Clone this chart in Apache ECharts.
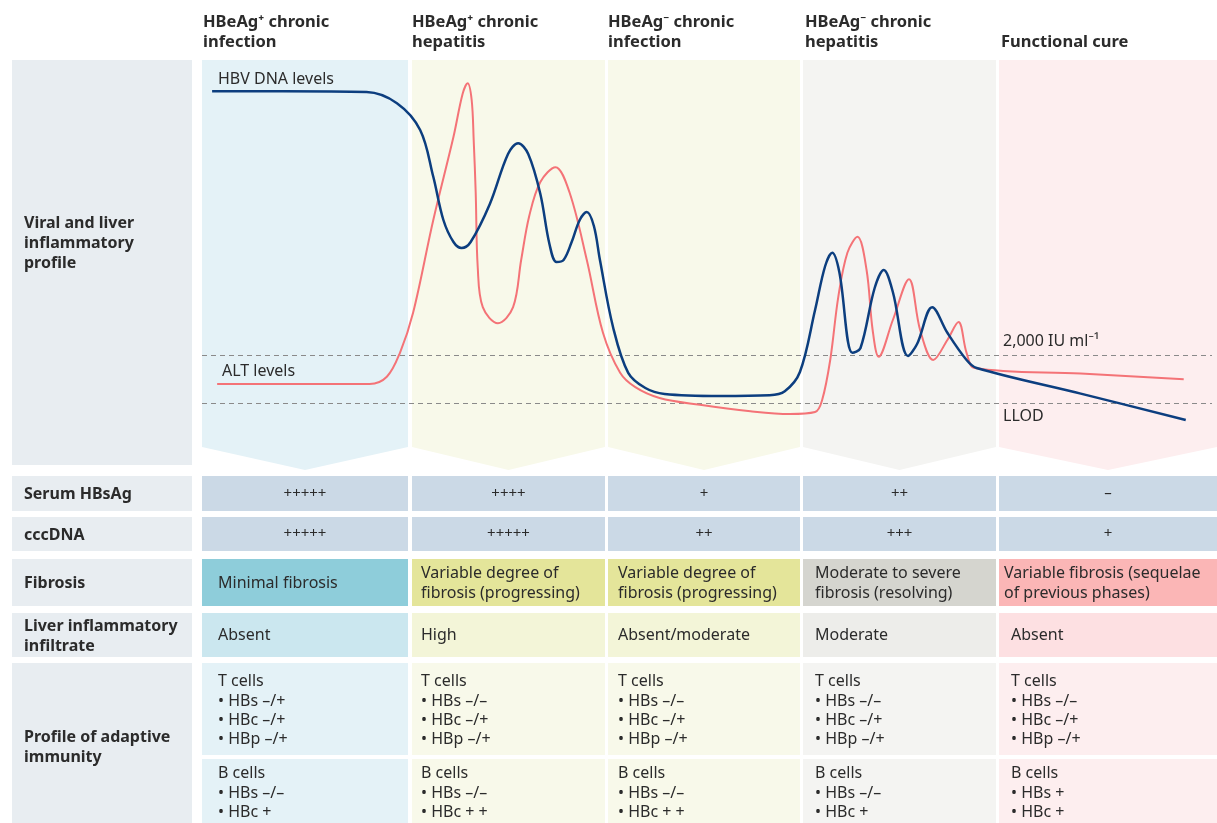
<!DOCTYPE html>
<html>
<head>
<meta charset="utf-8">
<script src="https://cdn.jsdelivr.net/npm/echarts@6/dist/echarts.min.js"></script>
<style>
  html, body { margin: 0; padding: 0; background: #fff; }
  #chart { width: 1217px; height: 823px; }
</style>
</head>
<body>
<div id="chart"></div>
<script>
// phase headers
const phases = ['HBeAg\u207A chronic\ninfection', 'HBeAg\u207A chronic\nhepatitis', 'HBeAg\u207B chronic\ninfection', 'HBeAg\u207B chronic\nhepatitis', 'Functional cure'];
const rowLabels = ['Serum HBsAg', 'cccDNA', 'Fibrosis', 'Liver inflammatory\ninfiltrate', 'Profile of adaptive\nimmunity'];
const hbsag = ['+++++', '++++', '+', '++', '\u2013'];
const cccdna = ['+++++', '+++++', '++', '+++', '+'];
const fibrosis = ['Minimal fibrosis', 'Variable degree of\nfibrosis (progressing)', 'Variable degree of\nfibrosis (progressing)', 'Moderate to severe\nfibrosis (resolving)', 'Variable fibrosis (sequelae\nof previous phases)'];
const infiltrate = ['Absent', 'High', 'Absent/moderate', 'Moderate', 'Absent'];
const tCells = [
  ['HBs \u2013/+', 'HBc \u2013/+', 'HBp \u2013/+'],
  ['HBs \u2013/\u2013', 'HBc \u2013/+', 'HBp \u2013/+'],
  ['HBs \u2013/\u2013', 'HBc \u2013/+', 'HBp \u2013/+'],
  ['HBs \u2013/\u2013', 'HBc \u2013/+', 'HBp \u2013/+'],
  ['HBs \u2013/\u2013', 'HBc \u2013/+', 'HBp \u2013/+']
];
const bCells = [
  ['HBs \u2013/\u2013', 'HBc +'],
  ['HBs \u2013/\u2013', 'HBc + +'],
  ['HBs \u2013/\u2013', 'HBc + +'],
  ['HBs \u2013/\u2013', 'HBc +'],
  ['HBs +', 'HBc +']
];

// curves: [time, level] (time 0-100, level 0-100)
const hbvDna = [
  [1.0, 92.2], [8, 92.2], [16.3, 92], [19.3, 89.2], [21.6, 82.5], [22.9, 70.8], [23.9, 60],
  [24.9, 54.5], [25.7, 53], [26.6, 54.5], [28.5, 64], [30.3, 76.5], [31.3, 79.2], [32.3, 76.5],
  [33.5, 66.5], [34.4, 54], [35.1, 49.5], [35.8, 50], [36.6, 54.5], [37.4, 60], [38.1, 62], [38.8, 58.5],
  [39.4, 50], [40.7, 33.2], [42.2, 21.8], [43.9, 18], [45.8, 16.5], [51.3, 16], [56.2, 16.2],
  [57.7, 17.2], [59.2, 22], [60.7, 37.5], [61.7, 48.5], [62.4, 51.8], [63.1, 47], [64.4, 26.8],
  [65.2, 28], [66.6, 43], [67.5, 47.5], [68.4, 42], [69.9, 26], [70.8, 29], [72.3, 38.2],
  [73.8, 31.8], [75.7, 25], [76.7, 23], [87, 16.6], [97.4, 10]
];
const alt = [
  [1.5, 19], [9, 19], [16.6, 19], [18.3, 20.8], [19.6, 26.8], [20.9, 36.8], [22.9, 60],
  [24.9, 80.8], [25.8, 91.5], [26.3, 94.2], [26.7, 90], [26.9, 80], [27.1, 66.8], [27.3, 48.2],
  [27.8, 38.2], [29.3, 34.2], [30.8, 38.2], [31.6, 50], [32.4, 61], [33.5, 69.5], [35.0, 73.2],
  [36.4, 66.8], [38.1, 50], [39.7, 31.8], [41.4, 21.8], [42.9, 18.2], [45.3, 15.5],
  [49.3, 13.8], [54.3, 12.2], [58.2, 11.5], [60.7, 12], [61.4, 15], [62.2, 25], [63.0, 40.8],
  [63.9, 51.8], [64.9, 55.8], [65.8, 47.5], [66.4, 32.5], [67.0, 25.8], [68.4, 35],
  [70.0, 45.2], [71.1, 32.5], [72.4, 25], [73.8, 30], [74.9, 34.5], [75.7, 26.8], [76.5, 23],
  [87, 21.6], [97.2, 20.2]
];
const thresholds = [26.25, 14.25];
const thresholdLabels = ['2,000 IU ml\u207B\u00B9', 'LLOD'];

const colX = [[202, 408], [412, 605], [608, 800], [803, 996], [999, 1217]];
const textX = [218, 421, 618, 815, 1011];
const headX = [203, 412, 608, 805, 1001];
const bgColors = ['#e4f2f7', '#f8f9ea', '#f8f9ea', '#f4f4f2', '#fdeeef'];
const fibColors = ['#8ecdda', '#e4e59a', '#e4e59a', '#d5d5cf', '#fbb6b6'];
const infColors = ['#cbe7ef', '#f3f5d8', '#f3f5d8', '#ededea', '#fde0e2'];
const labelBg = '#e8edf1';
const rowBlue = '#cbd9e6';

const FONT = '"Noto Sans", sans-serif';
const textCol = '#2b2b2b';

function txt(x, y, s, opts) {
  opts = opts || {};
  return {
    type: 'text', z: 100,
    style: {
      x: x, y: y, text: s,
      fill: opts.fill || textCol,
      font: (opts.bold ? 'bold ' : '') + (opts.size || 16) + 'px ' + FONT,
      textAlign: opts.align || 'left', align: opts.align || 'left',
      textVerticalAlign: opts.va || 'middle', verticalAlign: opts.va || 'middle',
      lineHeight: opts.lh || 20
    }
  };
}
function rect(x0, y0, x1, y1, color) {
  return { type: 'rect', z: 0, shape: { x: x0, y: y0, width: x1 - x0, height: y1 - y0 }, style: { fill: color } };
}

const graphics = [];
// chart area backgrounds with chevron bottoms
graphics.push(rect(12, 60, 192, 465, labelBg));
colX.forEach(function (c, i) {
  const m = (c[0] + c[1]) / 2;
  graphics.push({
    type: 'polygon', z: 0,
    shape: { points: [[c[0], 60], [c[1], 60], [c[1], 447], [m, 470], [c[0], 447]] },
    style: { fill: bgColors[i] }
  });
  graphics.push(txt(headX[i], 52, phases[i], { bold: true, va: 'bottom', size: 16.5 }));
});
graphics.push(txt(24, 243, 'Viral and liver\ninflammatory\nprofile', { bold: true, size: 16 }));

// table rows
const rows = [
  { y: [476, 511], label: rowLabels[0] },
  { y: [517, 551], label: rowLabels[1] },
  { y: [559, 606], label: rowLabels[2] },
  { y: [613, 657], label: rowLabels[3] }
];
rows.forEach(function (r) {
  graphics.push(rect(12, r.y[0], 192, r.y[1], labelBg));
  graphics.push(txt(24, (r.y[0] + r.y[1]) / 2 + 1, r.label, { bold: true, size: 16 }));
});
graphics.push(rect(12, 663, 192, 823, labelBg));
graphics.push(txt(24, 747, rowLabels[4], { bold: true, size: 16 }));

colX.forEach(function (c, i) {
  const mid = (c[0] + c[1]) / 2;
  graphics.push(rect(c[0], 476, c[1], 511, rowBlue));
  graphics.push(txt(mid, 494, hbsag[i], { align: 'center', size: 15 }));
  graphics.push(rect(c[0], 517, c[1], 551, rowBlue));
  graphics.push(txt(mid, 534, cccdna[i], { align: 'center', size: 15 }));
  graphics.push(rect(c[0], 559, c[1], 606, fibColors[i]));
  graphics.push(txt(i === 4 ? 1004 : textX[i], 583, fibrosis[i]));
  graphics.push(rect(c[0], 613, c[1], 657, infColors[i]));
  graphics.push(txt(textX[i], 635, infiltrate[i]));
  graphics.push(rect(c[0], 663, c[1], 755, bgColors[i]));
  graphics.push(txt(textX[i], 672, 'T cells\n' + tCells[i].map(function (s) { return '\u2022 ' + s; }).join('\n'), { va: 'top', lh: 19.3 }));
  graphics.push(rect(c[0], 759, c[1], 823, bgColors[i]));
  graphics.push(txt(textX[i], 764, 'B cells\n' + bCells[i].map(function (s) { return '\u2022 ' + s; }).join('\n'), { va: 'top', lh: 19.3 }));
});

// curve labels
graphics.push(txt(218, 79, 'HBV DNA levels'));
graphics.push(txt(222, 371, 'ALT levels'));
graphics.push(txt(1003, 341, thresholdLabels[0]));
graphics.push(txt(1003, 416, thresholdLabels[1]));

const chart = echarts.init(document.getElementById('chart'), null, { renderer: 'canvas' });
chart.setOption({
  animation: false,
  backgroundColor: '#ffffff',
  grid: { left: 202, top: 60, width: 1010, height: 400, containLabel: false },
  xAxis: { type: 'value', min: 0, max: 100, show: false },
  yAxis: { type: 'value', min: 0, max: 100, show: false },
  graphic: graphics,
  series: [
    {
      name: 'ALT levels', type: 'line', data: alt, smooth: 0.35, showSymbol: false, symbol: 'none',
      lineStyle: { color: '#f47377', width: 2 }, z: 5,
      markLine: {
        silent: true, symbol: 'none', label: { show: false },
        lineStyle: { type: [5, 4], color: '#8a8a8a', width: 1 },
        data: thresholds.map(function (v) { return { yAxis: v }; })
      }
    },
    {
      name: 'HBV DNA levels', type: 'line', data: hbvDna, smooth: 0.35, showSymbol: false, symbol: 'none',
      lineStyle: { color: '#0c3e7f', width: 2.5 }, z: 6
    }
  ]
});
</script>
</body>
</html>
